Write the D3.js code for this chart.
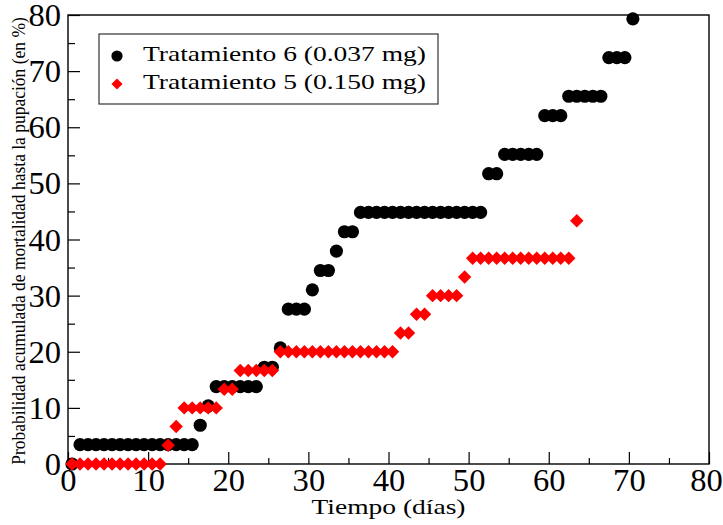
<!DOCTYPE html>
<html>
<head>
<meta charset="utf-8">
<script src="https://cdn.jsdelivr.net/npm/d3@7"></script>
<style>
  body { margin: 0; background: #fff; }
  text { font-family: "Liberation Serif", "Times New Roman", serif; fill: #000; }
</style>
</head>
<body>
<svg id="grafico" width="723" height="525"></svg>
<script>
// Tratamiento 6 (0.037 mg) - dias y mortalidad acumulada (%)
var diasT6 = [0.5, 1.5, 2.5, 3.5, 4.5, 5.5, 6.5, 7.5, 8.5, 9.5, 10.5, 11.5, 12.5, 13.5, 14.5, 15.5,
              16.5, 17.5, 18.5, 19.5, 20.5, 21.5, 22.5, 23.5, 24.5, 25.5, 26.5, 27.5, 28.5, 29.5,
              30.5, 31.5, 32.5, 33.5, 34.5, 35.5, 36.5, 37.5, 38.5, 39.5, 40.5, 41.5, 42.5, 43.5,
              44.5, 45.5, 46.5, 47.5, 48.5, 49.5, 50.5, 51.5, 52.5, 53.5, 54.5, 55.5, 56.5, 57.5,
              58.5, 59.5, 60.5, 61.5, 62.5, 63.5, 64.5, 65.5, 66.5, 67.5, 68.5, 69.5, 70.5];
var mortT6 = [0, 3.45, 3.45, 3.45, 3.45, 3.45, 3.45, 3.45, 3.45, 3.45, 3.45, 3.45, 3.45, 3.45, 3.45, 3.45,
              6.90, 10.34, 13.79, 13.79, 13.79, 13.79, 13.79, 13.79, 17.24, 17.24, 20.69, 27.59, 27.59, 27.59,
              31.03, 34.48, 34.48, 37.93, 41.38, 41.38, 44.83, 44.83, 44.83, 44.83, 44.83, 44.83, 44.83, 44.83,
              44.83, 44.83, 44.83, 44.83, 44.83, 44.83, 44.83, 44.83, 51.72, 51.72, 55.17, 55.17, 55.17, 55.17,
              55.17, 62.07, 62.07, 62.07, 65.52, 65.52, 65.52, 65.52, 65.52, 72.41, 72.41, 72.41, 79.31];

// Tratamiento 5 (0.150 mg)
var diasT5 = [0.5, 1.5, 2.5, 3.5, 4.5, 5.5, 6.5, 7.5, 8.5, 9.5, 10.5, 11.5, 12.5, 13.5, 14.5, 15.5,
              16.5, 17.5, 18.5, 19.5, 20.5, 21.5, 22.5, 23.5, 24.5, 25.5, 26.5, 27.5, 28.5, 29.5,
              30.5, 31.5, 32.5, 33.5, 34.5, 35.5, 36.5, 37.5, 38.5, 39.5, 40.5, 41.5, 42.5, 43.5,
              44.5, 45.5, 46.5, 47.5, 48.5, 49.5, 50.5, 51.5, 52.5, 53.5, 54.5, 55.5, 56.5, 57.5,
              58.5, 59.5, 60.5, 61.5, 62.5, 63.5];
var mortT5 = [0, 0, 0, 0, 0, 0, 0, 0, 0, 0, 0, 0, 3.33, 6.67, 10, 10,
              10, 10, 10, 13.33, 13.33, 16.67, 16.67, 16.67, 16.67, 16.67, 20, 20, 20, 20,
              20, 20, 20, 20, 20, 20, 20, 20, 20, 20, 20, 23.33, 23.33, 26.67,
              26.67, 30, 30, 30, 30, 33.33, 36.67, 36.67, 36.67, 36.67, 36.67, 36.67, 36.67, 36.67,
              36.67, 36.67, 36.67, 36.67, 36.67, 43.33];

var ticksX = [0, 10, 20, 30, 40, 50, 60, 70, 80];
var ticksY = [0, 10, 20, 30, 40, 50, 60, 70, 80];
var menoresX = [5, 15, 25, 35, 45, 55, 65, 75];
var menoresY = [5, 15, 25, 35, 45, 55, 65, 75];
var series = ["Tratamiento 6 (0.037 mg)", "Tratamiento 5 (0.150 mg)"];

var svg = d3.select("#grafico");
var izq = 68, arr = 15, ancho = 641, alto = 449;
var estirar = "scale(1.25,1)"; // la fuente del original sale mas ancha
var estirarNum = "scale(1.05,1)";

var x = d3.scaleLinear().domain([0, 80]).range([izq, izq + ancho]);
var y = d3.scaleLinear().domain([0, 80]).range([arr + alto, arr]);

// ejes con ticks hacia adentro
var ejeX = svg.append("g").attr("transform", "translate(0," + (arr + alto) + ")");
ejeX.call(d3.axisBottom(x).tickValues(ticksX).tickSize(-12).tickFormat(d3.format("d")));
ejeX.append("g").call(d3.axisBottom(x).tickValues(menoresX).tickSize(-6).tickFormat(""));

var ejeY = svg.append("g").attr("transform", "translate(" + izq + ",0)");
ejeY.call(d3.axisLeft(y).tickValues(ticksY).tickSize(-12).tickFormat(d3.format("d")));
ejeY.append("g").call(d3.axisLeft(y).tickValues(menoresY).tickSize(-7).tickFormat(""));

svg.selectAll(".domain").remove();
svg.selectAll("g").attr("font-family", null);
svg.selectAll(".tick line").attr("stroke", "#000").attr("stroke-width", 1.2);
svg.selectAll(".tick text")
    .attr("x", 0)
    .attr("y", 0)
    .attr("dy", null)
    .style("font-size", "31px")
    .attr("fill", "#000");
ejeX.selectAll(".tick text").attr("transform", function(d){
    return "translate(" + (d === 80 ? -3 : 0) + ",27) " + estirarNum;
});
ejeY.selectAll(".tick text").attr("transform", "translate(-7,10.5) " + estirarNum);

// marco
svg.append("rect")
    .attr("x", izq)
    .attr("y", arr)
    .attr("width", ancho)
    .attr("height", alto)
    .attr("fill", "none")
    .attr("stroke", "#000")
    .attr("stroke-width", 1.4);

// puntos: primero los circulos, los rombos encima
svg.append("g").selectAll("circle")
    .data(diasT6)
    .enter().append("circle")
    .attr("cx", function(d){ return x(d); })
    .attr("cy", function(d, i){ return y(mortT6[i]); })
    .attr("r", 6.6)
    .attr("fill", "#000");

var rombo = d3.symbol().type(d3.symbolSquare).size(90);
svg.append("g").selectAll("path")
    .data(diasT5)
    .enter().append("path")
    .attr("d", rombo)
    .attr("transform", function(d, i){ return "translate(" + x(d) + "," + y(mortT5[i]) + ") rotate(45)"; })
    .attr("fill", "#ff0000");

// leyenda
var leyenda = svg.append("g");
leyenda.append("rect")
    .attr("x", 99)
    .attr("y", 34)
    .attr("width", 339)
    .attr("height", 70)
    .attr("fill", "#fff")
    .attr("stroke", "#333")
    .attr("stroke-width", 1.2);
leyenda.append("circle")
    .attr("cx", 117)
    .attr("cy", 56)
    .attr("r", 5.6)
    .attr("fill", "#000");
leyenda.append("path")
    .attr("d", d3.symbol().type(d3.symbolSquare).size(62))
    .attr("transform", "translate(117,84) rotate(45)")
    .attr("fill", "#ff0000");
leyenda.selectAll("text")
    .data(series)
    .enter().append("text")
    .attr("transform", function(d, i){ return "translate(143," + (61 + i * 28) + ") " + estirar; })
    .style("font-size", "22px")
    .text(function(d){ return d; });

// titulos de ejes
svg.append("text")
    .attr("transform", "translate(" + x(40) + ",514) " + estirar)
    .attr("text-anchor", "middle")
    .style("font-size", "22px")
    .text("Tiempo (días)");

svg.append("text")
    .attr("transform", "translate(25,241) scale(1.1,1) rotate(-90)")
    .attr("text-anchor", "middle")
    .style("font-size", "17.5px")
    .text("Probabilidad acumulada de mortalidad hasta la pupación (en %)");
</script>
</body>
</html>
